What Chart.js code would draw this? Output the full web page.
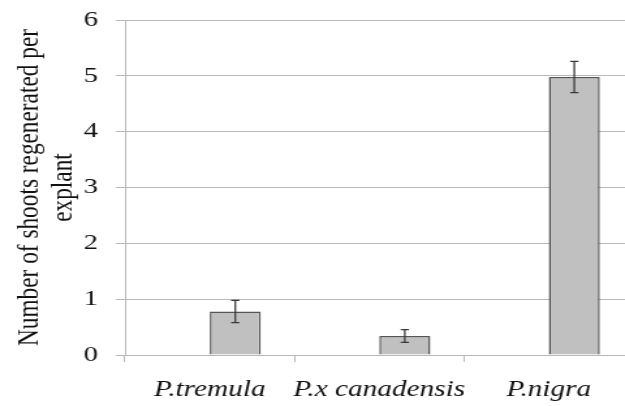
<!DOCTYPE html>
<html>
<head>
<meta charset="utf-8">
<script src="https://cdn.jsdelivr.net/npm/chart.js@4/dist/chart.umd.min.js"></script>
<style>
  html, body { margin: 0; padding: 0; background: #ffffff; overflow: hidden; }
  #wrap { width: 625px; height: 406px; overflow: hidden; position: relative; }
</style>
</head>
<body>
<div id="wrap"><canvas id="c" width="500" height="406" style="display:block;width:651px;height:406px;"></canvas></div>
<script>
// ---- data ----
const categories = ['P.tremula', 'P.x canadensis', 'P.nigra'];
const emptySeries = [null, null, null];          // unused first series slot (as in the original grouped chart)
const shootsPerExplant = [0.78, 0.34, 4.98];
const shootsError = [0.20, 0.115, 0.28];
const yTickValues = [0, 1, 2, 3, 4, 5, 6];
const yAxisTitle = ['Number of shoots regenerated per', 'explant'];

const gridGrey = '#b8b8b8';

const errorBarPlugin = {
  id: 'errorBars',
  afterDatasetsDraw(chart) {
    const meta = chart.getDatasetMeta(1);
    const yScale = chart.scales.y;
    const ctx = chart.ctx;
    ctx.save();
    ctx.strokeStyle = '#3a3a3a';
    ctx.lineWidth = 1.3;
    meta.data.forEach((bar, i) => {
      const v = shootsPerExplant[i];
      const e = shootsError[i];
      const x = bar.x;
      const yTop = yScale.getPixelForValue(v + e);
      const yBot = yScale.getPixelForValue(v - e);
      const cap = 3.2;
      ctx.beginPath();
      ctx.moveTo(x, yTop); ctx.lineTo(x, yBot);
      ctx.moveTo(x - cap, yTop); ctx.lineTo(x + cap, yTop);
      ctx.moveTo(x - cap, yBot); ctx.lineTo(x + cap, yBot);
      ctx.stroke();
    });
    ctx.restore();
  }
};

new Chart(document.getElementById('c'), {
  type: 'bar',
  data: {
    labels: categories,
    datasets: [
      { label: 'empty', data: emptySeries, backgroundColor: '#c0c0c0' },
      {
        label: 'Shoots',
        data: shootsPerExplant,
        backgroundColor: '#c0c0c0',
        borderColor: '#555555',
        borderWidth: 1.5
      }
    ]
  },
  options: {
    responsive: false,
    devicePixelRatio: 1,
    animation: false,
    layout: { padding: { top: 20, right: 13.4, left: 0, bottom: 0 } },
    datasets: { bar: { categoryPercentage: 0.602, barPercentage: 1.0 } },
    plugins: { legend: { display: false }, tooltip: { enabled: false } },
    scales: {
      x: {
        type: 'category',
        offset: true,
        grid: { display: true, drawOnChartArea: false, drawTicks: true, tickLength: 7, offset: true, color: gridGrey },
        border: { display: true, color: gridGrey },
        ticks: {
          color: '#111111',
          padding: 15,
          maxRotation: 0,
          autoSkip: false,
          font: { family: 'Liberation Serif', size: 22.5, style: 'italic' }
        },
        afterFit(scale) { scale.height = 51; scale.paddingLeft = 0; scale.paddingRight = 0; }
      },
      y: {
        min: 0,
        max: 6,
        afterBuildTicks(scale) { scale.ticks = yTickValues.map(v => ({ value: v })); },
        grid: { color: gridGrey, tickLength: 7, drawTicks: true },
        border: { display: true, color: gridGrey },
        ticks: {
          color: '#111111',
          padding: 13.7,
          font: { family: 'Liberation Serif', size: 22 }
        },
        title: {
          display: true,
          text: yAxisTitle,
          color: '#111111',
          padding: { top: 9.5, bottom: 0 },
          font: { family: 'Liberation Serif', size: 23.3, lineHeight: 1.12 }
        },
        afterFit(scale) { scale.width = 96; scale.paddingTop = 0; scale.paddingBottom = 0; }
      }
    }
  },
  plugins: [errorBarPlugin]
});
</script>
</body>
</html>
